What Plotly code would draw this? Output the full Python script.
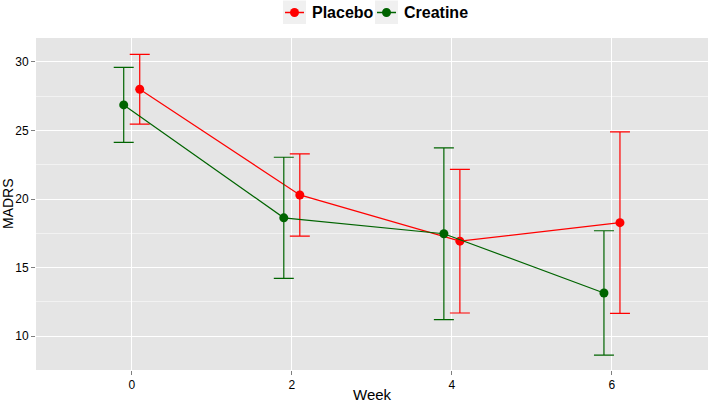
import plotly.graph_objects as go

weeks = [0, 2, 4, 6]
placebo_mean = [28.01, 20.30, 16.93, 18.28]
placebo_err = [2.55, 3.0, 5.24, 6.62]
creatine_mean = [26.87, 18.63, 17.47, 13.15]
creatine_err = [2.73, 4.42, 6.26, 4.54]

series = [
    ("Placebo", placebo_mean, placebo_err, "#FF0000", 0.1),
    ("Creatine", creatine_mean, creatine_err, "#006400", -0.1),
]

FONT = "Liberation Sans, Arial, Helvetica, sans-serif"
W, H = 708, 403
ML, MR, MT, MB = 36, 0, 38, 33
PW, PH = W - ML - MR, H - MT - MB


def px(x):
    return (x - ML) / PW


def py(y):
    return (H - MB - y) / PH


fig = go.Figure()
for name, mean, err, color, dodge in series:
    fig.add_trace(go.Scatter(
        x=[w + dodge for w in weeks], y=mean, name=name,
        mode="lines+markers", showlegend=False,
        line=dict(color=color, width=1.2),
        marker=dict(color=color, size=9),
        error_y=dict(type="data", array=err, visible=True, color=color,
                     thickness=1.2, width=10),
    ))

# manual ggplot-style legend (keys with grey background)
legend_keys = [(284, 310), (376, 402)]
shapes = []
annotations = []
LEG_Y = 12.5
for (kx, tx), (name, _, _, color, _) in zip(legend_keys, series):
    shapes.append(dict(type="rect", xref="paper", yref="paper",
                       x0=px(kx - 1), x1=px(kx + 22), y0=py(0.5), y1=py(24),
                       fillcolor="#F0F0F0", line=dict(width=0), layer="above"))
    shapes.append(dict(type="line", xref="paper", yref="paper",
                       x0=px(kx + 1), x1=px(kx + 20), y0=py(LEG_Y), y1=py(LEG_Y),
                       line=dict(color=color, width=1.5), layer="above"))
    shapes.append(dict(type="circle", xref="paper", yref="paper",
                       xsizemode="pixel", ysizemode="pixel",
                       xanchor=px(kx + 10.5), yanchor=py(LEG_Y),
                       x0=-4.5, x1=4.5, y0=-4.5, y1=4.5,
                       fillcolor=color, line=dict(width=0), layer="above"))
    annotations.append(dict(text="<b>%s</b>" % name, xref="paper", yref="paper",
                            x=px(tx), y=py(LEG_Y), xanchor="left", yanchor="middle",
                            showarrow=False, font=dict(size=16, color="black")))

annotations += [
    dict(text="Week", xref="paper", yref="paper", x=0.5, y=-24.0 / PH,
         xanchor="center", yanchor="middle", showarrow=False,
         font=dict(size=15)),
    dict(text="MADRS", xref="paper", yref="paper", x=-28.0 / PW, y=0.5,
         xanchor="center", yanchor="middle", showarrow=False, textangle=-90,
         font=dict(size=14)),
]

fig.update_layout(
    width=W, height=H,
    margin=dict(l=ML, r=MR, t=MT, b=MB, autoexpand=False),
    paper_bgcolor="white", plot_bgcolor="#E5E5E5",
    font=dict(family=FONT, color="black", size=12),
    showlegend=False,
    shapes=shapes,
    annotations=annotations,
)

fig.update_xaxes(
    range=[-1.196, 7.2], tickvals=weeks, ticktext=[str(w) for w in weeks],
    showgrid=True, gridcolor="white", gridwidth=1.2, zeroline=False,
    ticks="outside", ticklen=4, tickcolor="#7F7F7F", tickwidth=1,
    tickfont=dict(size=12, color="black"), automargin=False,
    showline=False,
)
fig.update_yaxes(
    range=[7.53, 31.75], tick0=10, dtick=5,
    showgrid=True, gridcolor="white", gridwidth=1.2, zeroline=False,
    ticks="outside", ticklen=4, tickcolor="#7F7F7F", tickwidth=1,
    tickfont=dict(size=12, color="black"), automargin=False,
    minor=dict(dtick=2.5, showgrid=True, gridcolor="#F2F2F2", gridwidth=0.6, ticks=""),
    showline=False,
)

fig.write_html("out.html", config={"displayModeBar": False},
               post_script="document.body.style.margin='0';document.body.style.overflow='hidden';")
